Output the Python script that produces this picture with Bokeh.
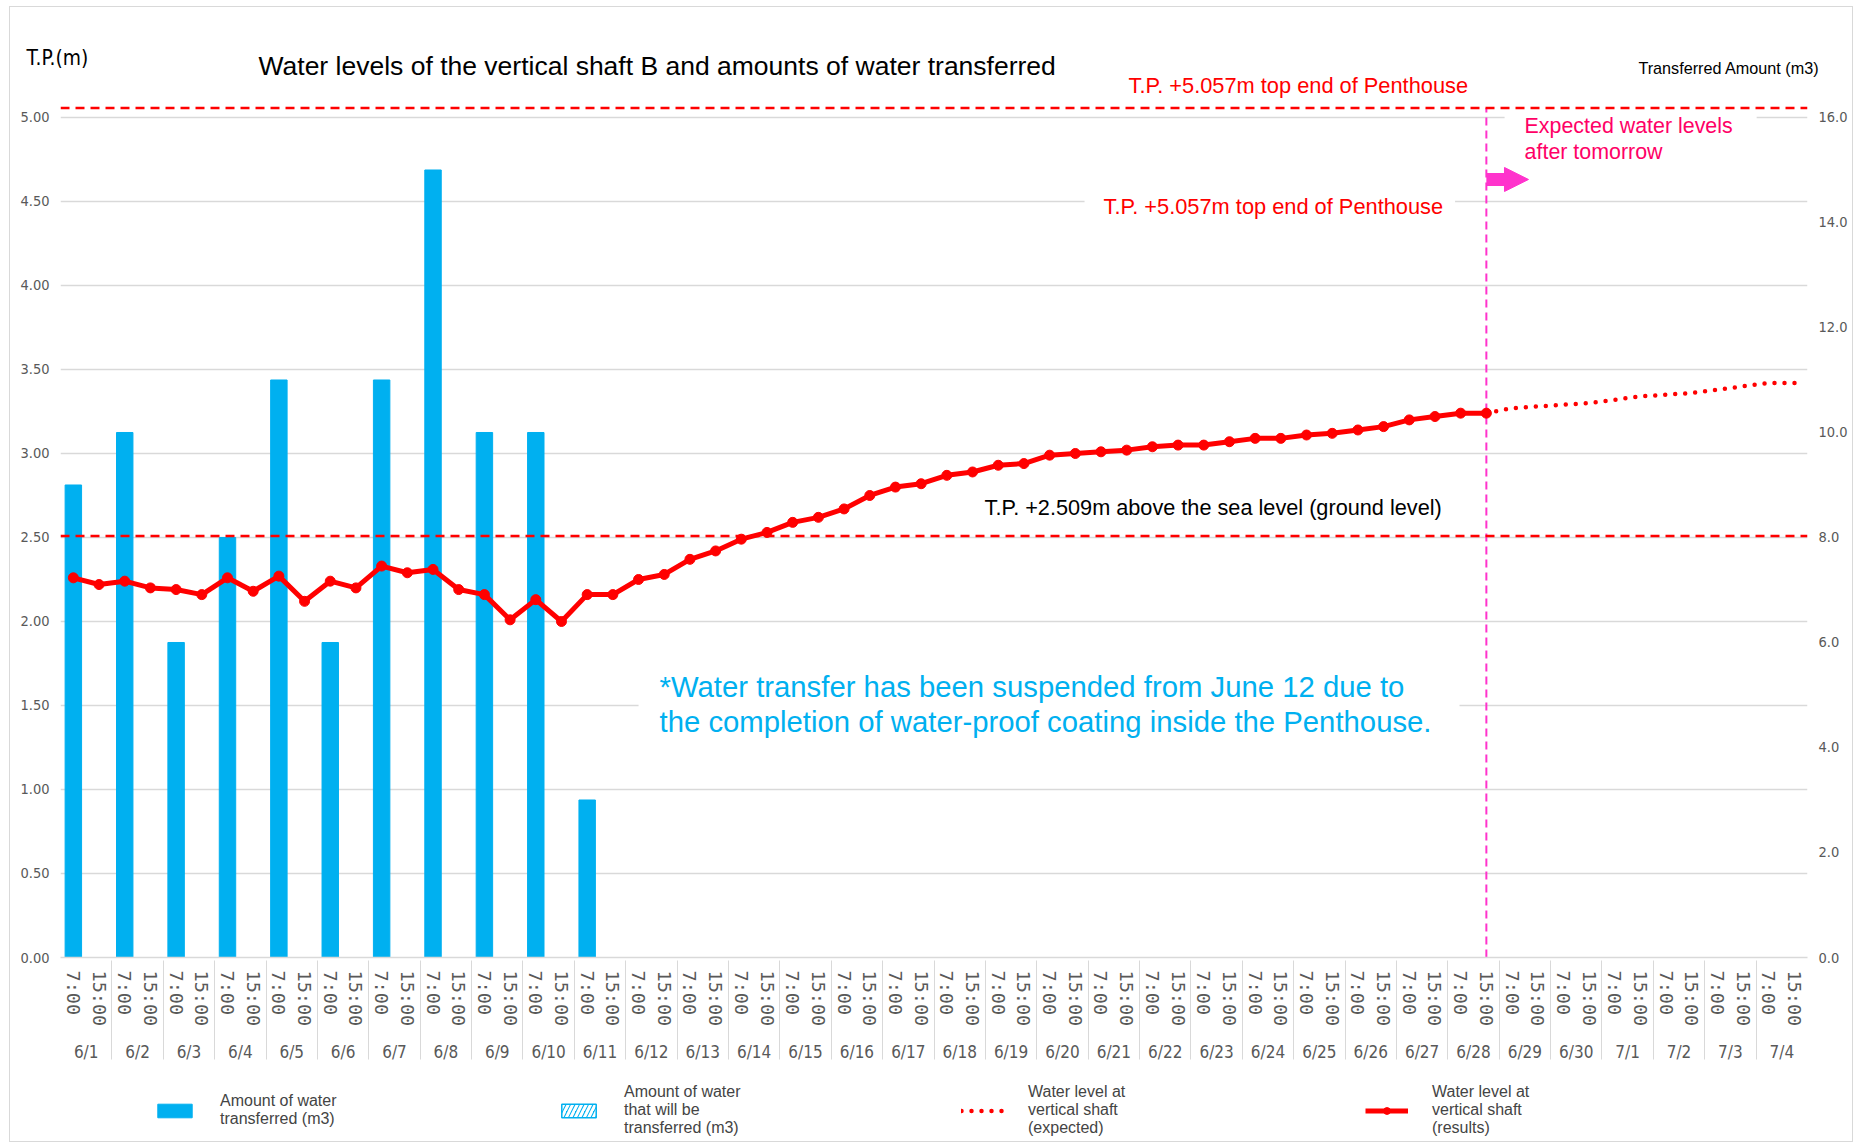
from bokeh.plotting import figure
from bokeh.layouts import column
from bokeh.models import (FactorRange, Range1d, LinearAxis, FixedTicker, NumeralTickFormatter,
                          Label, Span, Arrow, NormalHead, Legend, LegendItem, ColumnDataSource)
from bokeh.embed import file_html
from bokeh.resources import INLINE

# ---------------- data ----------------
days = ["6/1", "6/2", "6/3", "6/4", "6/5", "6/6", "6/7", "6/8", "6/9", "6/10",
        "6/11", "6/12", "6/13", "6/14", "6/15", "6/16", "6/17", "6/18", "6/19", "6/20",
        "6/21", "6/22", "6/23", "6/24", "6/25", "6/26", "6/27", "6/28", "6/29", "6/30",
        "7/1", "7/2", "7/3", "7/4"]
times = ["7:00", "15:00"]

# transferred amount (m3), measured at 7:00 of each day
bar_days = ["6/1", "6/2", "6/3", "6/4", "6/5", "6/6", "6/7", "6/8", "6/9", "6/10", "6/11"]
transferred = [9.0, 10.0, 6.0, 8.0, 11.0, 6.0, 11.0, 15.0, 10.0, 10.0, 3.0]

# water level results, 6/1 7:00 ... 6/28 15:00 (T.P. m)
level_results = [2.26, 2.22, 2.24, 2.20, 2.19, 2.16, 2.26, 2.18, 2.27, 2.12,
                 2.24, 2.20, 2.33, 2.29, 2.31, 2.19, 2.16, 2.01, 2.13, 2.00,
                 2.16, 2.16, 2.25, 2.28, 2.37, 2.42, 2.49, 2.53, 2.59, 2.62,
                 2.67, 2.75, 2.80, 2.82, 2.87, 2.89, 2.93, 2.94, 2.99, 3.00,
                 3.01, 3.02, 3.04, 3.05, 3.05, 3.07, 3.09, 3.09, 3.11, 3.12,
                 3.14, 3.16, 3.20, 3.22, 3.24, 3.24]
# expected water level, 6/28 15:00 ... 7/4 15:00
level_expected = [3.24, 3.27, 3.28, 3.29, 3.30, 3.32, 3.34, 3.35, 3.36, 3.38, 3.40, 3.42, 3.42]

left_ticks = [0.0, 0.5, 1.0, 1.5, 2.0, 2.5, 3.0, 3.5, 4.0, 4.5, 5.0]
right_ticks = [0, 2, 4, 6, 8, 10, 12, 14, 16]
penthouse_top = 5.057
ground_level = 2.509
today = ("6/28", "15:00")

# ---------------- layout constants ----------------
W = 1842
HEAD_H = 91
MAIN_H = 974
FOOT_H = 69
Y_TOP = 5.113

NARROW = "'Liberation Sans Narrow', 'DejaVu Sans Condensed', sans-serif"
SANS = "'Liberation Sans', Arial, sans-serif"
GRAY = "#595959"
BLUE = "#00B0F0"
RED = "#FF0000"
MAGENTA = "#FF33CC"


def bare(fig):
    fig.outline_line_color = None
    fig.grid.visible = False
    return fig


# ---------------- header (title row) ----------------
head = bare(figure(width=W, height=HEAD_H, x_range=Range1d(0, W), y_range=Range1d(0, HEAD_H),
                   output_backend="svg", toolbar_location=None, min_border=0, frame_align=False,
                   x_axis_location=None, y_axis_location=None))


def hlab(text, x, y, size, font=SANS, align="left", color="black"):
    head.add_layout(Label(x=x, y=y, text=text, text_font=font, text_font_size=size,
                          text_color=color, text_align=align, text_baseline="middle"))


hlab("Water levels of the vertical shaft B and amounts of water transferred", 248, 33, "26.5px")
hlab("T.P.(m)", 16, 41, "20.8px", font=NARROW)
hlab("Transferred Amount (m3)", 1809, 31, "16.2px", align="right")
hlab("T.P. +5.057m top end of Penthouse", 1118, 13, "21.8px", color=RED)

# ---------------- main chart ----------------
slots = [(d, t) for d in days for t in times]
x_range = FactorRange(*slots, factor_padding=0, group_padding=0, range_padding=0)
p = figure(x_range=x_range, y_range=Range1d(0, Y_TOP), width=W, height=MAIN_H,
           output_backend="svg", toolbar_location=None, frame_align=False,
           min_border_left=50, min_border_right=45, min_border_top=0, min_border_bottom=115)
p.extra_y_ranges = {"amount": Range1d(0, right_ticks[-1] * Y_TOP / left_ticks[-1])}
p.outline_line_color = None

yl = p.yaxis[0]
yl.ticker = FixedTicker(ticks=left_ticks)
yl.formatter = NumeralTickFormatter(format="0.00")
right = LinearAxis(y_range_name="amount", ticker=FixedTicker(ticks=right_ticks),
                   formatter=NumeralTickFormatter(format="0.0"))
p.add_layout(right, "right")
for ax in (yl, right):
    ax.axis_line_color = None
    ax.major_tick_line_color = None
    ax.minor_tick_line_color = None
    ax.major_tick_out = 0
    ax.major_tick_in = 0
    ax.minor_tick_out = 0
    ax.major_label_text_font = NARROW
    ax.major_label_text_font_size = "14.5px"
    ax.major_label_text_color = GRAY
    ax.major_label_standoff = 11

xa = p.xaxis[0]
xa.axis_line_color = "#D9D9D9"
xa.axis_line_width = 1.5
xa.major_tick_line_color = None
xa.major_tick_out = 0
xa.major_tick_in = 0
xa.major_label_orientation = "vertical"
xa.major_label_text_font = "DejaVu Sans Mono"
xa.major_label_text_font_size = "18.5px"
xa.major_label_text_color = GRAY
xa.major_label_standoff = 13
xa.group_text_font = NARROW
xa.group_text_font_size = "17px"
xa.group_text_font_style = "normal"
xa.group_text_color = GRAY
xa.separator_line_color = "#D9D9D9"
xa.separator_line_width = 1

p.xgrid.visible = False
p.ygrid.grid_line_color = "#D9D9D9"
p.ygrid.grid_line_width = 1.5

# bars
bar_style = dict(fill_color=BLUE, line_color=BLUE)
plan_style = dict(fill_color=BLUE, line_color=BLUE, line_width=1.5,
                  hatch_pattern="right_diagonal_line", hatch_color="white", hatch_weight=3, hatch_scale=9)
p.vbar(x=[(d, "7:00") for d in bar_days], top=transferred, width=0.64,
       y_range_name="amount", **bar_style)

# reference lines
p.add_layout(Span(location=penthouse_top, dimension="width", line_color=RED,
                  line_width=2.5, line_dash="9 6"))
p.add_layout(Span(location=ground_level, dimension="width", line_color=RED,
                  line_width=2.5, line_dash="9 6"))
p.segment(x0=[today], y0=[0], x1=[today], y1=[penthouse_top], line_color=MAGENTA,
          line_width=2, line_dash="8 5")

# water level lines
exp_style = dict(line_color=RED, line_width=4.5, line_dash="0 10", line_cap="round")
res_style = dict(line_color=RED, line_width=5, line_join="round")
pt_style = dict(marker="circle", size=10, fill_color=RED, line_color=RED)
n = len(level_results)
p.line(x=slots[n - 1:n - 1 + len(level_expected)], y=level_expected, **exp_style)
p.line(x=slots[:n], y=level_results, **res_style)
p.scatter(x=slots[:n], y=level_results, **pt_style)


def lab(text, x, y, size, color="black", font=SANS, align="left", baseline="middle", **kw):
    p.add_layout(Label(x=x, y=y, text=text, text_font=font, text_font_size=size, text_color=color,
                       text_align=align, text_baseline=baseline, **kw))


lab("T.P. +5.057m top end of Penthouse", 39.86, 4.47, "21.8px", color=RED,
    background_fill_color="white", padding=dict(left=19, right=12, top=6, bottom=6))
lab("Expected water levels\nafter tomorrow", 56.21, 5.042, "21.4px", color="#FF0066", baseline="top",
    text_line_height=1.08, background_fill_color="white",
    padding=dict(left=20, right=24, top=4, bottom=6))
lab("T.P. +2.509m above the sea level (ground level)", 35.97, 2.679, "21.7px")
lab("*Water transfer has been suspended from June 12 due to\nthe completion of water-proof coating inside the Penthouse.",
    22.5, 1.756, "29.3px", color=BLUE, baseline="top", text_line_height=1.05,
    background_fill_color="white", padding=dict(left=21, right=28, top=8, bottom=10))

p.add_layout(Arrow(x_start=slots.index(today) + 0.5, y_start=4.631, x_end=57.14, y_end=4.631,
                   line_color=MAGENTA, line_width=13,
                   end=NormalHead(size=24, fill_color=MAGENTA, line_color=MAGENTA)))

# ---------------- footer (legend row) ----------------
foot = bare(figure(width=W, height=FOOT_H, x_range=Range1d(0, 1), y_range=Range1d(0, 1),
                   output_backend="svg", toolbar_location=None, min_border=0, frame_align=False,
                   x_axis_location=None, y_axis_location=None))
# legend proxies: one undefined (NaN) point each, so nothing is drawn in the footer itself
proxy = dict(x=[0.5], y=[float("nan")], top=[float("nan")])
r_bar = foot.vbar(x="x", top="top", width=0.5, source=ColumnDataSource(proxy), **bar_style)
r_plan = foot.vbar(x="x", top="top", width=0.5, source=ColumnDataSource(proxy), **plan_style)
r_exp = foot.line(x="x", y="y", source=ColumnDataSource(proxy), **exp_style)
r_res = foot.line(x="x", y="y", source=ColumnDataSource(proxy), **res_style)
r_pts = foot.scatter(x="x", y="y", source=ColumnDataSource(proxy), **pt_style)

legend = Legend(items=[
    LegendItem(label="Amount of water\ntransferred (m3)", renderers=[r_bar]),
    LegendItem(label="Amount of water\nthat will be\ntransferred (m3)", renderers=[r_plan]),
    LegendItem(label="Water level at\nvertical shaft\n(expected)", renderers=[r_exp]),
    LegendItem(label="Water level at\nvertical shaft\n(results)", renderers=[r_res, r_pts]),
], orientation="horizontal", location=(143, 4), glyph_width=43, glyph_height=17,
    label_standoff=24, label_width=337, spacing=0, padding=0, margin=0,
    border_line_color=None, background_fill_alpha=0,
    label_text_font=SANS, label_text_font_size="16px", label_text_line_height=1.32)
foot.add_layout(legend)

layout = column(head, p, foot, spacing=0, margin=(6, 0, 0, 9),
                styles={"border": "1px solid #D9D9D9"})

open("out.html", "w").write(file_html(layout, INLINE))
